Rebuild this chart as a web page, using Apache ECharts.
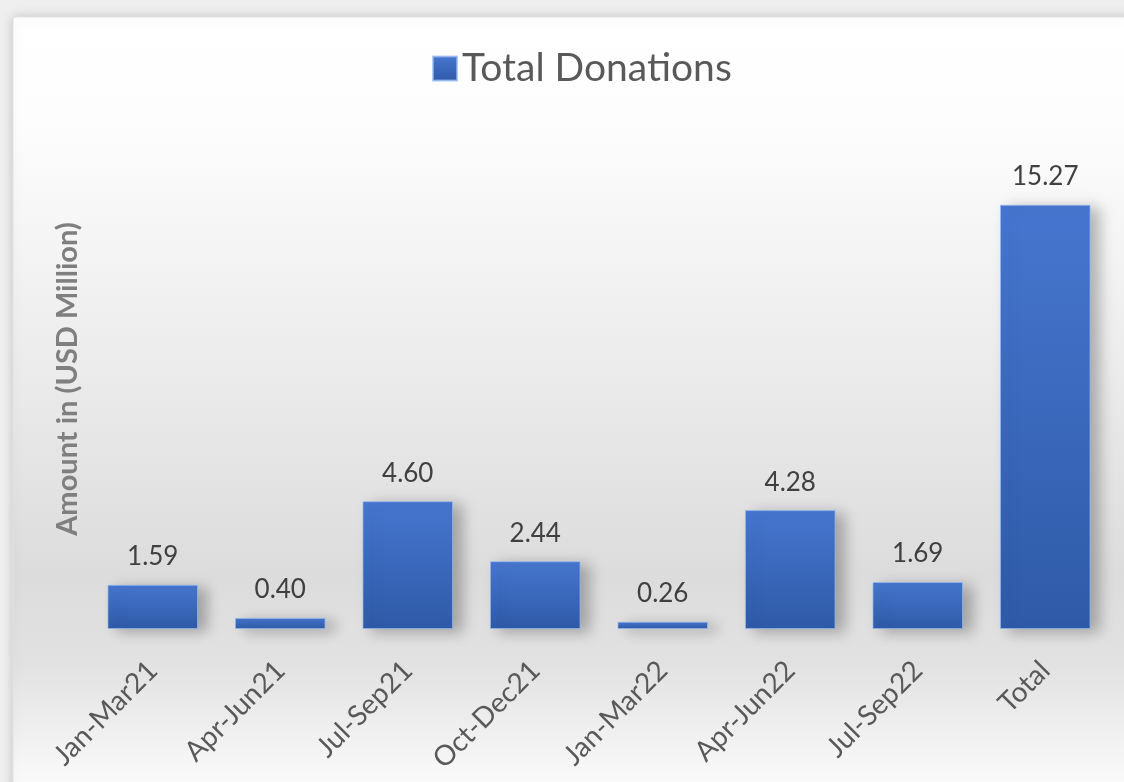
<!DOCTYPE html>
<html><head><meta charset="utf-8">
<script src="https://cdn.jsdelivr.net/npm/echarts@6/dist/echarts.min.js"></script>
<style>html,body{margin:0;padding:0;background:#efefef;}#c{width:1124px;height:782px;}</style>
</head><body><div id="c"></div>
<script>
const categories = ['Jan-Mar21','Apr-Jun21','Jul-Sep21','Oct-Dec21','Jan-Mar22','Apr-Jun22','Jul-Sep22','Total'];
const donations = [1.59, 0.40, 4.60, 2.44, 0.26, 4.28, 1.69, 15.27];
const seriesName = 'Total Donations';
const yAxisTitle = 'Amount in (USD Million)';

const FONT = 'Lato, "Open Sans", sans-serif';
const chart = echarts.init(document.getElementById('c'));
chart.setOption({
  backgroundColor: '#efefef',
  graphic: [{
    type: 'rect', z: -10, silent: true,
    shape: { x: 13, y: 17, width: 1200, height: 900, r: 3 },
    style: {
      fill: new echarts.graphic.LinearGradient(0, 0, 0, 1, [
        { offset: 0, color: '#ffffff' },
        { offset: 0.12, color: '#fdfdfd' },
        { offset: 0.4, color: '#ebebeb' },
        { offset: 0.62, color: '#dcdcdc' },
        { offset: 0.72, color: '#e2e2e2' },
        { offset: 0.85, color: '#fafafa' },
        { offset: 1, color: '#ffffff' }
      ]),
      stroke: '#e2e2e2', lineWidth: 1,
      shadowColor: 'rgba(0,0,0,0.18)', shadowBlur: 12
    }
  }],
  legend: {
    top: 44, left: 427,
    itemWidth: 24, itemHeight: 24, itemGap: 9,
    icon: 'rect',
    textStyle: { fontFamily: FONT, fontSize: 39, color: '#595959' },
    data: [seriesName]
  },
  grid: { left: 89, right: 15, top: 129, bottom: 153 },
  xAxis: {
    type: 'category', data: categories,
    axisLine: { show: false }, axisTick: { show: false },
    axisLabel: { rotate: 45, margin: 37, fontFamily: FONT, fontSize: 28, color: '#595959' }
  },
  yAxis: {
    type: 'value', min: 0, max: 18,
    axisLabel: { show: false }, axisLine: { show: false }, axisTick: { show: false },
    splitLine: { show: false },
    name: yAxisTitle, nameLocation: 'middle', nameGap: 7,
    nameTextStyle: { fontFamily: FONT, fontSize: 29, color: '#7f7f7f', fontWeight: 'bold' }
  },
  series: [{
    name: seriesName, type: 'bar', data: donations,
    barCategoryGap: '29%',
    itemStyle: {
      color: new echarts.graphic.LinearGradient(0, 0, 0, 1, [
        { offset: 0, color: '#4676cf' },
        { offset: 1, color: '#2f5aa8' }
      ]),
      borderColor: 'rgba(150,185,240,0.7)', borderWidth: 1,
      shadowColor: 'rgba(0,0,0,0.28)', shadowBlur: 14, shadowOffsetX: 9, shadowOffsetY: 3
    },
    label: {
      show: true, position: 'top', distance: 15,
      formatter: p => p.value.toFixed(2),
      fontFamily: FONT, fontSize: 26, color: '#404040'
    }
  }]
});
</script></body></html>
